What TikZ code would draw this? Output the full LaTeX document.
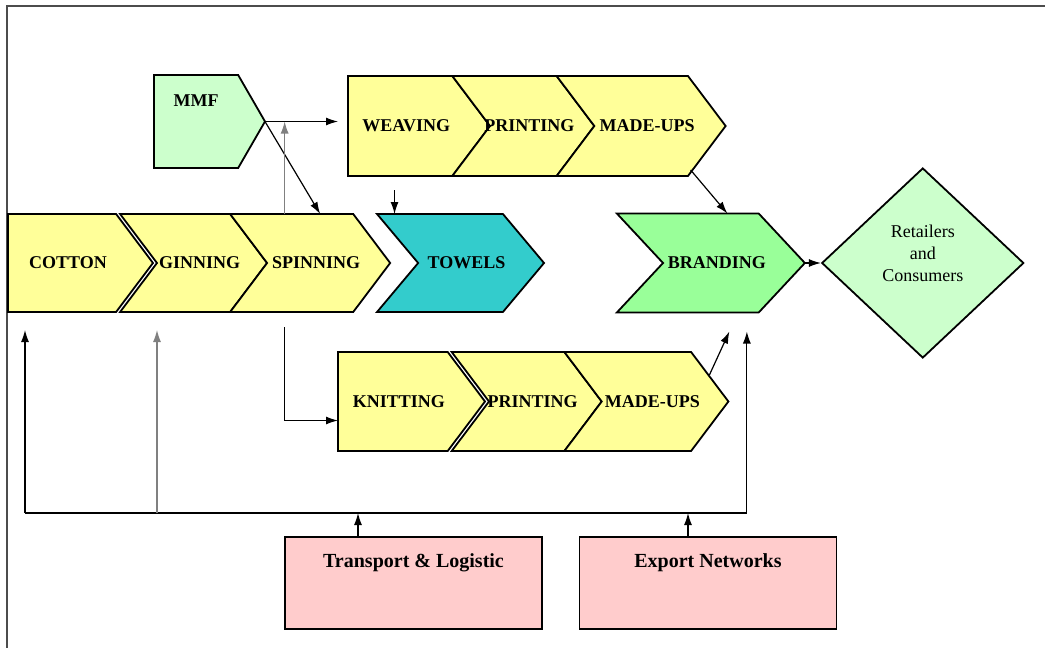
\documentclass[tikz,border=0pt]{standalone}
\usepackage{fontspec}
\setmainfont{Liberation Serif}
\usetikzlibrary{shapes,arrows.meta,positioning,calc}

\definecolor{stageyellow}{HTML}{FFFF99}
\definecolor{towelteal}{HTML}{33CCCC}
\definecolor{brandgreen}{HTML}{99FF99}
\definecolor{palegreen}{HTML}{CCFFCC}
\definecolor{palepink}{HTML}{FFCCCC}

% text of a stage may run over the notch, so it takes no width
\tikzstyle{stage} = [signal, draw, line width=0.9pt, fill=stageyellow,
    signal pointer angle=106, signal to=east, signal from=west,
    inner sep=0pt, outer sep=0pt, minimum height=49pt,
    font=\fontsize{9}{11}\selectfont\bfseries,
    execute at begin node={\hbox to 0pt\bgroup\hss\hskip 6pt},
    execute at end node={\hss\egroup}]
\tikzstyle{headstage} = [signal from=nowhere]
\tikzstyle{infobox} = [rectangle, draw, line width=0.9pt, fill=palepink,
    minimum width=128.5pt, inner ysep=0pt, text height=15pt, text depth=31pt,
    font=\fontsize{10}{12}\selectfont\bfseries]
\tikzstyle{link} = [->, line width=0.6pt]

\begin{document}
\begin{tikzpicture}[x=0.5pt,y=-0.5pt,>={Latex[length=6pt,width=4pt]}]
  \useasboundingbox (0,0) rectangle (1045,648);
  \draw[black!70, line width=0.8pt] (7,648) -- (7,6) -- (1045,6);

  % main chain
  \node[stage,headstage,minimum width=72.5pt,anchor=west] (cotton) at (8,263) {COTTON};
  \node[stage,minimum width=73.5pt,right=2pt of cotton] (ginning) {GINNING};
  \node[stage,minimum width=80pt,right=0pt of ginning] (spinning) {SPINNING};
  \node[stage,fill=towelteal,signal pointer angle=100,minimum width=83.5pt,
        right=14pt of spinning] (towels) {TOWELS};
  \node[stage,fill=brandgreen,signal pointer angle=94,minimum width=94pt,
        minimum height=49.5pt,right=59.5pt of towels] (branding) {BRANDING};
  \node[diamond,draw,line width=0.9pt,fill=palegreen,minimum width=101pt,
        minimum height=95pt,inner sep=0pt,right=8pt of branding,
        label={[align=center,yshift=5pt,font=\fontsize{9}{11}\selectfont]center:Retailers\\and\\Consumers}] (retail) {};

  % woven and knitted rows
  \node[stage,headstage,fill=palegreen,signal pointer angle=120,minimum width=55.5pt,
        minimum height=46.5pt,anchor=west,
        label={[yshift=10.5pt,font=\fontsize{9}{11}\selectfont\bfseries]center:MMF}] (mmf) at (154,121.5) {};
  \node[stage,headstage,minimum width=71pt,minimum height=50pt,anchor=west] (weaving) at (348,126) {WEAVING};
  \node[stage,minimum width=71pt,minimum height=50pt,right=0pt of weaving] (printA) {PRINTING};
  \node[stage,minimum width=84.5pt,minimum height=50pt,right=0pt of printA] (madeA) {MADE-UPS};
  \node[stage,headstage,minimum width=73.5pt,minimum height=49.5pt,anchor=west] (knitting) at (338,401.5) {KNITTING};
  \node[stage,minimum width=75pt,minimum height=49.5pt,right=2pt of knitting] (printB) {PRINTING};
  \node[stage,minimum width=82pt,minimum height=49.5pt,right=0pt of printB] (madeB) {MADE-UPS};

  % support boxes
  \node[infobox] (transport) at (413.5,583) {Transport \& Logistic};
  \node[infobox] (export) at (708,583) {Export Networks};

  \coordinate (spinup) at ([xshift=-12.75pt]spinning.north);
  \coordinate (spindown) at ([xshift=-12.75pt,yshift=-7.5pt]spinning.south);
  \coordinate (towin) at ([xshift=-33pt,yshift=12pt]towels.north);
  \coordinate (cotin) at ([yshift=-9pt]cotton.south);
  \coordinate (brandin) at ([xshift=18pt,yshift=-9.5pt]branding.south);
  \coordinate (busL) at (25,513);
  \coordinate (trup) at ([xshift=-27.75pt]transport.north);
  \coordinate (exup) at ([xshift=-10pt]export.north);

  \draw[link,shorten >=5pt] (mmf.east) -- (mmf.east -| weaving.west);
  \draw[link] (mmf.east) -- ([xshift=5pt]spinning.north);
  \draw[link,gray] (spinup) -- (spinup |- mmf.east);
  \draw[link] (spindown) |- ([yshift=-9.5pt]knitting.west);
  \draw[link] (towin) -- (towin |- towels.north);
  \draw[link] ([xshift=-17.5pt,yshift=-22pt]madeA.east) -- ([xshift=8.25pt]branding.north);
  \draw[link] (branding.east) -- (retail.west);
  \draw[link] ([xshift=-9.5pt,yshift=13.25pt]madeB.east) -- ([xshift=9.25pt,yshift=-9.5pt]branding.south);

  \draw[line width=0.6pt] (busL) -- (busL -| brandin);
  \draw[link] (busL) -- (busL |- cotin);
  \draw[link,gray] (busL -| ginning.west) -- (ginning.west |- cotin);
  \draw[link] (busL -| brandin) -- (brandin);
  \draw[link] (trup) -- (trup |- busL);
  \draw[link] (exup) -- (exup |- busL);
\end{tikzpicture}
\end{document}
